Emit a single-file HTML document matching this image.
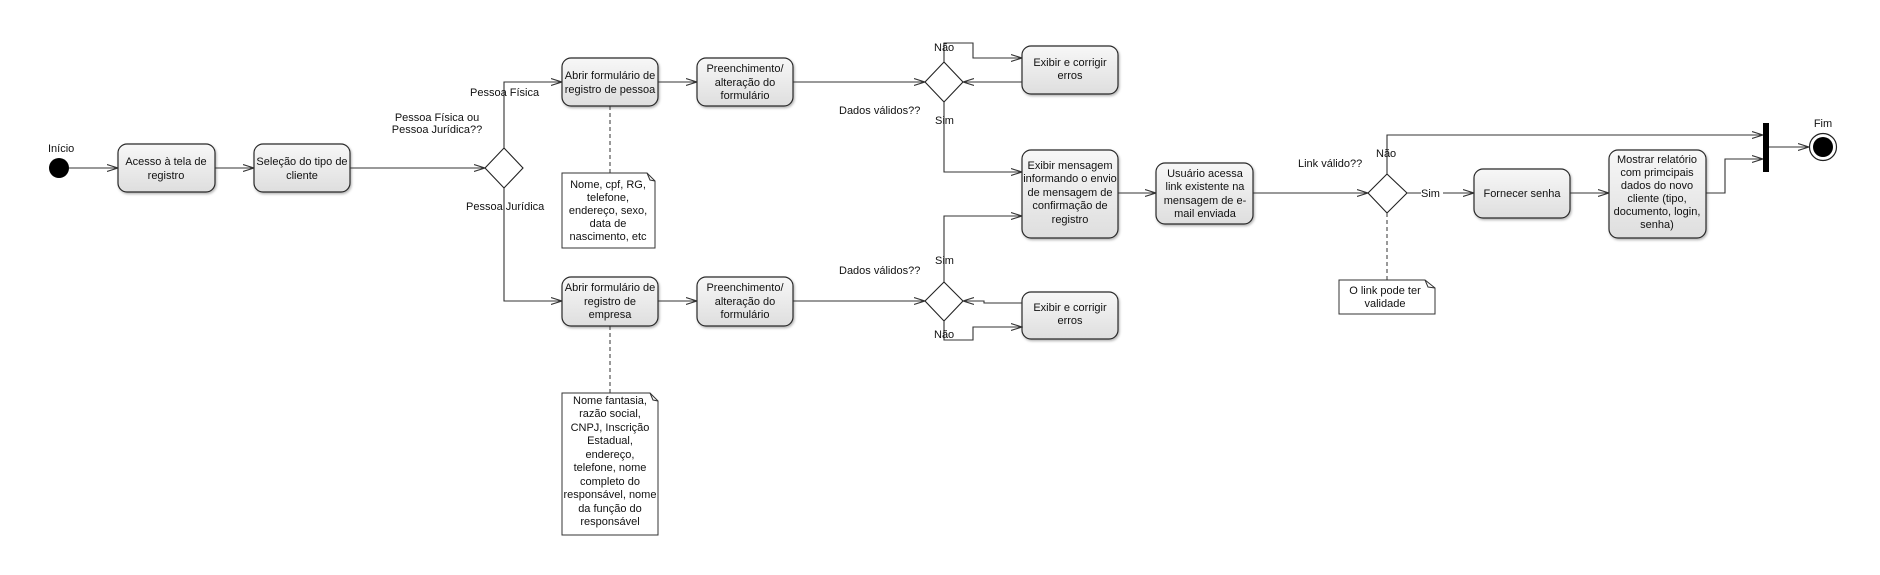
<!DOCTYPE html>
<html><head><meta charset="utf-8"><style>
html,body{margin:0;padding:0;background:#fff;}
svg{display:block;}
text{font-family:"Liberation Sans",sans-serif;font-size:11px;fill:#111;}
.b{fill:url(#g);stroke:#2a2a2a;stroke-width:1.2;}
.n{fill:#fff;stroke:#333;stroke-width:1;}
.l{fill:none;stroke:#333;stroke-width:1.1;}
.d{fill:none;stroke:#333;stroke-width:1;stroke-dasharray:4,3;}
</style></head><body>
<svg width="1880" height="575" viewBox="0 0 1880 575" xmlns="http://www.w3.org/2000/svg">
<defs>
<linearGradient id="g" x1="0" y1="0" x2="0" y2="1"><stop offset="0" stop-color="#f7f7f7"/><stop offset="1" stop-color="#dedede"/></linearGradient>
<marker id="a" markerWidth="12" markerHeight="10" refX="11" refY="5" orient="auto" markerUnits="userSpaceOnUse"><polyline points="0,1.5 11,5 0,8.5" fill="none" stroke="#333" stroke-width="1.1"/></marker>
<filter id="s" x="-10%" y="-10%" width="130%" height="130%"><feDropShadow dx="1" dy="1.5" stdDeviation="1.2" flood-opacity="0.3"/></filter>
</defs>

<!-- start -->
<circle cx="59" cy="168" r="10" fill="#000"/>
<text x="48" y="152">Início</text>
<line class="l" x1="69" y1="168" x2="118" y2="168" marker-end="url(#a)"/>
<rect class="b" filter="url(#s)" x="118" y="144" width="97" height="48" rx="9"/>
<text text-anchor="middle"><tspan x="166" y="165">Acesso à tela de</tspan><tspan x="166" y="179">registro</tspan></text>
<line class="l" x1="215" y1="168" x2="254" y2="168" marker-end="url(#a)"/>
<rect class="b" filter="url(#s)" x="254" y="144" width="96" height="48" rx="9"/>
<text text-anchor="middle"><tspan x="302" y="165">Seleção do tipo de</tspan><tspan x="302" y="179">cliente</tspan></text>
<line class="l" x1="350" y1="168" x2="485" y2="168" marker-end="url(#a)"/>
<polygon points="504,148 523,168 504,188 485,168" fill="#fff" stroke="#222" stroke-width="1.1"/>
<text text-anchor="middle"><tspan x="437" y="121">Pessoa Física ou</tspan><tspan x="437" y="133">Pessoa Jurídica??</tspan></text>
<polyline class="l" points="504,148 504,82 562,82" marker-end="url(#a)"/>
<polyline class="l" points="504,188 504,301 562,301" marker-end="url(#a)"/>
<text x="470" y="96">Pessoa Física</text>
<text x="466" y="210">Pessoa Jurídica</text>

<!-- top row -->
<rect class="b" filter="url(#s)" x="562" y="58" width="96" height="48" rx="9"/>
<text text-anchor="middle"><tspan x="610" y="79">Abrir formulário de</tspan><tspan x="610" y="93">registro de pessoa</tspan></text>
<line class="d" x1="610" y1="106" x2="610" y2="173"/>
<path class="n" d="M562,173 H647 L655,181 V248 H562 Z"/>
<path d="M647,173 L650,180 L655,181" fill="none" stroke="#333"/>
<text text-anchor="middle"><tspan x="608" y="188">Nome, cpf, RG,</tspan><tspan x="608" y="201">telefone,</tspan><tspan x="608" y="214">endereço, sexo,</tspan><tspan x="608" y="227">data de</tspan><tspan x="608" y="240">nascimento, etc</tspan></text>
<line class="l" x1="658" y1="82" x2="697" y2="82" marker-end="url(#a)"/>
<rect class="b" filter="url(#s)" x="697" y="58" width="96" height="48" rx="9"/>
<text text-anchor="middle"><tspan x="745" y="72">Preenchimento/</tspan><tspan x="745" y="86">alteração do</tspan><tspan x="745" y="99">formulário</tspan></text>
<line class="l" x1="793" y1="82" x2="925" y2="82" marker-end="url(#a)"/>
<polygon points="944,62 963,82 944,102 925,82" fill="#fff" stroke="#222" stroke-width="1.1"/>
<polyline class="l" points="944,62 944,43 973,43 973,58 1022,58" marker-end="url(#a)"/>
<text x="934" y="51">Não</text>
<rect class="b" filter="url(#s)" x="1022" y="46" width="96" height="48" rx="9"/>
<text text-anchor="middle"><tspan x="1070" y="66">Exibir e corrigir</tspan><tspan x="1070" y="79">erros</tspan></text>
<line class="l" x1="1022" y1="82" x2="963" y2="82" marker-end="url(#a)"/>
<text x="839" y="114">Dados válidos??</text>
<text x="935" y="124">Sim</text>
<polyline class="l" points="944,102 944,172 1022,172" marker-end="url(#a)"/>

<!-- bottom row -->
<rect class="b" filter="url(#s)" x="562" y="277" width="96" height="49" rx="9"/>
<text text-anchor="middle"><tspan x="610" y="291">Abrir formulário de</tspan><tspan x="610" y="305">registro de</tspan><tspan x="610" y="318">empresa</tspan></text>
<line class="d" x1="610" y1="326" x2="610" y2="393"/>
<path class="n" d="M562,393 H650 L658,401 V535 H562 Z"/>
<path d="M650,393 L653,400 L658,401" fill="none" stroke="#333"/>
<text text-anchor="middle"><tspan x="610" y="404">Nome fantasia,</tspan><tspan x="610" y="417">razão social,</tspan><tspan x="610" y="431">CNPJ, Inscrição</tspan><tspan x="610" y="444">Estadual,</tspan><tspan x="610" y="458">endereço,</tspan><tspan x="610" y="471">telefone, nome</tspan><tspan x="610" y="485">completo do</tspan><tspan x="610" y="498">responsável, nome</tspan><tspan x="610" y="512">da função do</tspan><tspan x="610" y="525">responsável</tspan></text>
<line class="l" x1="658" y1="301" x2="697" y2="301" marker-end="url(#a)"/>
<rect class="b" filter="url(#s)" x="697" y="277" width="96" height="49" rx="9"/>
<text text-anchor="middle"><tspan x="745" y="291">Preenchimento/</tspan><tspan x="745" y="305">alteração do</tspan><tspan x="745" y="318">formulário</tspan></text>
<line class="l" x1="793" y1="301" x2="925" y2="301" marker-end="url(#a)"/>
<polygon points="944,282 963,301 944,321 925,301" fill="#fff" stroke="#222" stroke-width="1.1"/>
<rect class="b" filter="url(#s)" x="1022" y="292" width="96" height="47" rx="9"/>
<text text-anchor="middle"><tspan x="1070" y="311">Exibir e corrigir</tspan><tspan x="1070" y="324">erros</tspan></text>
<polyline class="l" points="1022,303 984,303 984,301 963,301" marker-end="url(#a)"/>
<polyline class="l" points="944,321 944,340 973,340 973,327 1022,327" marker-end="url(#a)"/>
<text x="934" y="338">Não</text>
<text x="935" y="264">Sim</text>
<text x="839" y="274">Dados válidos??</text>
<polyline class="l" points="944,282 944,216 1022,216" marker-end="url(#a)"/>

<!-- middle -->
<rect class="b" filter="url(#s)" x="1022" y="150" width="96" height="88" rx="9"/>
<text text-anchor="middle"><tspan x="1070" y="169">Exibir mensagem</tspan><tspan x="1070" y="182">informando o envio</tspan><tspan x="1070" y="196">de mensagem de</tspan><tspan x="1070" y="209">confirmação de</tspan><tspan x="1070" y="223">registro</tspan></text>
<line class="l" x1="1118" y1="193" x2="1156" y2="193" marker-end="url(#a)"/>
<rect class="b" filter="url(#s)" x="1156" y="163" width="97" height="61" rx="9"/>
<text text-anchor="middle"><tspan x="1205" y="177">Usuário acessa</tspan><tspan x="1205" y="190">link existente na</tspan><tspan x="1205" y="204">mensagem de e-</tspan><tspan x="1205" y="217">mail enviada</tspan></text>
<line class="l" x1="1253" y1="193" x2="1368" y2="193" marker-end="url(#a)"/>
<text x="1298" y="167">Link válido??</text>
<polygon points="1387,174 1407,193 1387,213 1368,193" fill="#fff" stroke="#222" stroke-width="1.1"/>
<polyline class="l" points="1387,174 1387,135 1763,135" marker-end="url(#a)"/>
<text x="1376" y="157">Não</text>
<line class="l" x1="1407" y1="193" x2="1474" y2="193" marker-end="url(#a)"/>
<rect x="1421" y="186" width="22" height="13" fill="#fff"/>
<text x="1421" y="197">Sim</text>
<line class="d" x1="1387" y1="213" x2="1387" y2="280"/>
<path class="n" d="M1339,280 H1425 L1435,288 V314 H1339 Z"/>
<path d="M1425,280 L1428,287 L1435,288" fill="none" stroke="#333"/>
<text text-anchor="middle"><tspan x="1385" y="294">O link pode ter</tspan><tspan x="1385" y="307">validade</tspan></text>
<rect class="b" filter="url(#s)" x="1474" y="169" width="96" height="49" rx="9"/>
<text x="1522" y="197" text-anchor="middle">Fornecer senha</text>
<line class="l" x1="1570" y1="193" x2="1609" y2="193" marker-end="url(#a)"/>
<rect class="b" filter="url(#s)" x="1609" y="150" width="97" height="88" rx="9"/>
<text text-anchor="middle"><tspan x="1657" y="163">Mostrar relatório</tspan><tspan x="1657" y="176">com primcipais</tspan><tspan x="1657" y="189">dados do novo</tspan><tspan x="1657" y="202">cliente (tipo,</tspan><tspan x="1657" y="215">documento, login,</tspan><tspan x="1657" y="228">senha)</tspan></text>
<polyline class="l" points="1706,193 1725,193 1725,159 1763,159" marker-end="url(#a)"/>
<rect x="1763" y="123" width="6" height="49" fill="#000"/>
<line class="l" x1="1769" y1="147" x2="1809" y2="147" marker-end="url(#a)"/>
<circle cx="1823" cy="147" r="13.5" fill="#fff" stroke="#222" stroke-width="1.2"/>
<circle cx="1823" cy="147" r="10" fill="#000"/>
<text x="1823" y="127" text-anchor="middle">Fim</text>
</svg>
</body></html>
